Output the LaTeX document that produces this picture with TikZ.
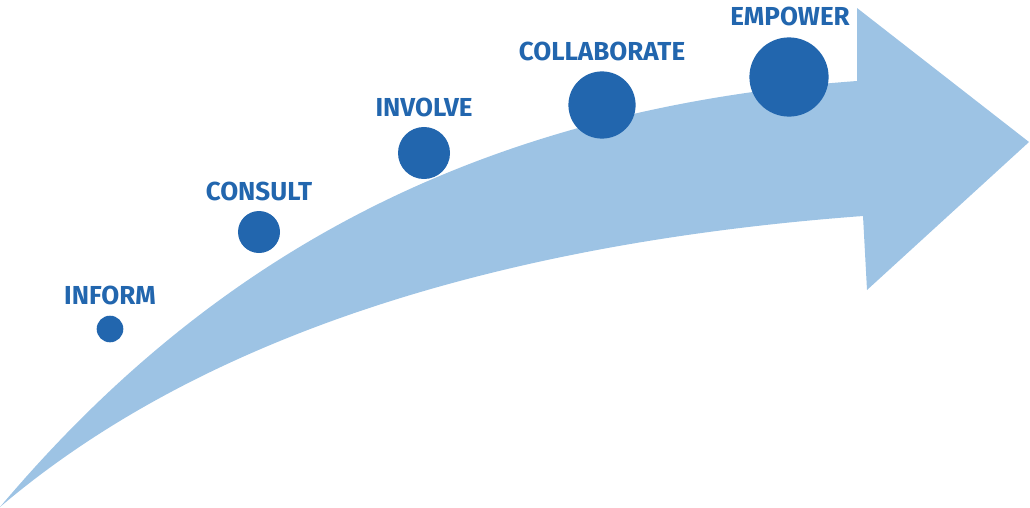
\documentclass[tikz,border=0pt]{standalone}
\usepackage{fontspec}
\setmainfont{Fira Sans}
\usepackage{tikz}
\usetikzlibrary{shapes, positioning}
\definecolor{darkblue}{RGB}{34,102,174}
\definecolor{lightblue}{RGB}{157,195,228}
\tikzstyle{stage} = [fill=darkblue, circle, inner sep=0pt]
\tikzstyle{label} = [text=darkblue, font=\fontsize{18.5}{20}\selectfont\bfseries, inner sep=0pt]

\begin{document}
\begin{tikzpicture}[x=0.025cm, y=-0.025cm]

\useasboundingbox (0,0) rectangle (1030,507);

% arrow
\fill [lightblue] (0,507) .. controls (200,270) and (460,110) .. (857,81)
                  -- (857,8) -- (1029,142) -- (867,290) -- (863,216)
                  .. controls (540,240) and (220,320) .. (0,507) -- cycle;

% nodes
\node [stage, minimum size=0.665cm] at (110,329) (inform)        {};
\node [stage, minimum size=1.05cm]  at (259,232) (consult)       {};
\node [stage, minimum size=1.3cm]   at (424,153) (involve)       {};
\node [stage, minimum size=1.68cm]  at (602,105) (collaborate)   {};
\node [stage, minimum size=1.98cm]  at (789,77)  (empower)       {};

% labels
\node [label] at (110,295) (informtext)      {INFORM};
\node [label] at (259,191) (consulttext)     {CONSULT};
\node [label] at (424,107) (involvetext)     {INVOLVE};
\node [label] at (602,51)  (collaboratetext) {COLLABORATE};
\node [label] at (790,16)  (empowertext)     {EMPOWER};

\end{tikzpicture}
\end{document}
